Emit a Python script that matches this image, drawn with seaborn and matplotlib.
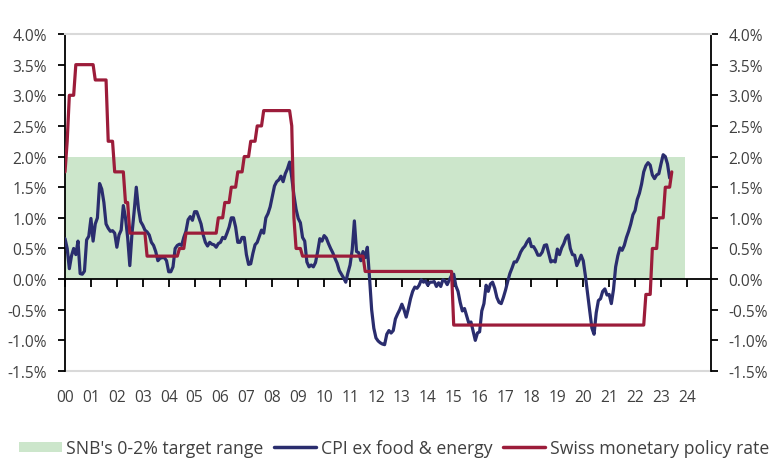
import matplotlib
matplotlib.use("Agg")
import matplotlib.pyplot as plt
import numpy as np
import pandas as pd
import seaborn as sns
from matplotlib.patches import Patch
from matplotlib.lines import Line2D

# ---------------- data ----------------
# CPI ex food & energy, % y/y, monthly from Jan 2000
cpi_start = "2000-01"
cpi_values = [
    0.66, 0.50, 0.17, 0.38, 0.50, 0.40, 0.62, 0.09, 0.08, 0.13, 0.64, 0.70,   # 2000
    0.99, 0.62, 0.90, 1.00, 1.56, 1.47, 1.25, 0.90, 0.83, 0.78, 0.79, 0.75,   # 2001
    0.52, 0.72, 0.80, 1.20, 1.00, 0.68, 0.22, 0.74, 1.10, 1.50, 1.15, 0.94,   # 2002
    0.88, 0.80, 0.77, 0.72, 0.60, 0.55, 0.45, 0.30, 0.34, 0.35, 0.35, 0.30,   # 2003
    0.12, 0.12, 0.20, 0.50, 0.55, 0.57, 0.55, 0.68, 0.78, 0.97, 1.02, 0.96,   # 2004
    1.10, 1.10, 1.00, 0.90, 0.72, 0.60, 0.54, 0.60, 0.57, 0.56, 0.52, 0.58,   # 2005
    0.60, 0.68, 0.66, 0.75, 0.85, 1.00, 1.00, 0.85, 0.60, 0.60, 0.68, 0.68,   # 2006
    0.40, 0.24, 0.25, 0.42, 0.56, 0.60, 0.70, 0.80, 0.75, 1.00, 1.07, 1.18,   # 2007
    1.35, 1.52, 1.59, 1.62, 1.68, 1.59, 1.72, 1.80, 1.91, 1.66, 1.37, 1.14,   # 2008
    0.99, 0.92, 0.68, 0.62, 0.28, 0.20, 0.23, 0.20, 0.27, 0.45, 0.66, 0.62,   # 2009
    0.71, 0.67, 0.58, 0.50, 0.43, 0.34, 0.26, 0.14, 0.08, 0.02, -0.05, 0.10,  # 2010
    0.23, 0.48, 0.95, 0.45, 0.43, 0.30, 0.45, 0.35, 0.52, 0.03, -0.50, -0.80, # 2011
    -0.96, -1.01, -1.04, -1.06, -1.07, -0.90, -0.84, -0.88, -0.84, -0.65, -0.57, -0.50,  # 2012
    -0.41, -0.50, -0.62, -0.48, -0.32, -0.20, -0.13, -0.15, -0.10, -0.01, -0.05, -0.03,  # 2013
    -0.10, -0.05, -0.05, -0.04, -0.12, -0.06, -0.12, -0.01, -0.03, -0.09, -0.01, 0.06,   # 2014
    0.08, -0.11, -0.20, -0.38, -0.52, -0.48, -0.60, -0.72, -0.70, -0.85, -1.00, -0.88,   # 2015
    -0.86, -0.52, -0.40, -0.10, -0.20, -0.08, -0.05, -0.15, -0.30, -0.38, -0.40, -0.30,  # 2016
    -0.18, -0.04, 0.09, 0.18, 0.28, 0.28, 0.35, 0.44, 0.50, 0.54, 0.61, 0.66,   # 2017
    0.53, 0.53, 0.47, 0.39, 0.39, 0.44, 0.55, 0.56, 0.42, 0.28, 0.30, 0.28,     # 2018
    0.49, 0.40, 0.51, 0.58, 0.68, 0.72, 0.50, 0.40, 0.39, 0.22, 0.30, 0.39,     # 2019
    0.30, 0.05, -0.24, -0.52, -0.80, -0.90, -0.55, -0.35, -0.32, -0.20, -0.16, -0.26,  # 2020
    -0.25, -0.40, -0.17, 0.20, 0.38, 0.51, 0.47, 0.55, 0.68, 0.78, 0.90, 1.05,  # 2021
    1.12, 1.30, 1.40, 1.55, 1.75, 1.85, 1.90, 1.86, 1.70, 1.64, 1.70, 1.72,     # 2022
    1.88, 2.03, 2.00, 1.88, 1.65,                                               # 2023
]

# Swiss monetary policy rate (step series): month of change and new level, %
rate_change_months = ["2000-01", "2000-02", "2000-03", "2000-06", "2001-03", "2001-09",
                      "2001-12", "2002-05", "2002-07", "2003-03", "2004-06", "2004-09",
                      "2005-12", "2006-03", "2006-06", "2006-09", "2006-12", "2007-03",
                      "2007-06", "2007-09", "2008-10", "2008-11", "2008-12", "2009-03",
                      "2011-08", "2015-01", "2022-06", "2022-09", "2022-12", "2023-03",
                      "2023-06"]
rate_levels = [1.75, 2.25, 3.0, 3.5, 3.25, 2.25,
               1.75, 1.25, 0.75, 0.375, 0.5, 0.75,
               1.0, 1.25, 1.5, 1.75, 2.0, 2.25,
               2.5, 2.75, 2.5, 1.0, 0.5, 0.375,
               0.125, -0.75, -0.25, 0.5, 1.0, 1.5,
               1.75]
rate_end = "2023-06"

# SNB target range band
target_low, target_high = 0.0, 2.0
target_start, target_end = "2000-01", "2023-12"

year_ticks = list(range(2000, 2025))
year_labels = ["00", "01", "02", "03", "04", "05", "06", "07", "08", "09", "10", "11",
               "12", "13", "14", "15", "16", "17", "18", "19", "20", "21", "22", "23", "24"]
y_ticks = [-1.5, -1.0, -0.5, 0.0, 0.5, 1.0, 1.5, 2.0, 2.5, 3.0, 3.5, 4.0]
y_labels = ["-1.5%", "-1.0%", "-0.5%", "0.0%", "0.5%", "1.0%", "1.5%", "2.0%",
            "2.5%", "3.0%", "3.5%", "4.0%"]

legend_labels = ["SNB's 0-2% target range", "CPI ex food & energy",
                 "Swiss monetary policy rate"]

# ---------------- build frames ----------------
def to_x(periods):
    return periods.year + (periods.month - 1) / 12.0

cpi_months = pd.period_range(cpi_start, periods=len(cpi_values), freq="M")
cpi_df = pd.DataFrame({"x": to_x(cpi_months), "value": cpi_values})

rate_months = pd.period_range(rate_change_months[0], rate_end, freq="M")
rate_series = (pd.Series(rate_levels, index=pd.PeriodIndex(rate_change_months, freq="M"))
               .reindex(rate_months).ffill())
rate_df = pd.DataFrame({"x": to_x(rate_months), "value": rate_series.values})

band_x = to_x(pd.PeriodIndex([target_start, target_end], freq="M"))

# ---------------- style ----------------
sns.set_theme(style="white")
plt.rcParams["font.family"] = ["Open Sans", "DejaVu Sans"]

green = "#cce6cb"
blue = "#2a2d6e"
red = "#9c1c3a"
text_col = "#404040"

fig = plt.figure(figsize=(7.76, 4.77), dpi=100)
ax = fig.add_axes([0.0838, 0.2201, 0.8320, 0.7065])

ax.fill_between(band_x, target_low, target_high, color=green, lw=0, zorder=1)
sns.lineplot(data=cpi_df, x="x", y="value", ax=ax, color=blue, lw=2.3, zorder=3)
sns.lineplot(data=rate_df, x="x", y="value", ax=ax, color=red, lw=2.3, zorder=4)

ax.set_xlim(2000, 2024 + 11 / 12)
ax.set_ylim(-1.5, 4.0)
ax.set_xlabel("")
ax.set_ylabel("")

ax.spines["top"].set_color("#d9d9d9")
ax.spines["top"].set_linewidth(1.5)
for s in ["left", "right"]:
    ax.spines[s].set_color("black")
    ax.spines[s].set_linewidth(1.3)
    ax.spines[s].set_visible(True)

# main x axis: black line at zero with downward tick marks, no labels
ax.spines["bottom"].set_position(("data", 0))
ax.spines["bottom"].set_color("black")
ax.spines["bottom"].set_linewidth(1.3)
ax.spines["bottom"].set_zorder(2)
ax.set_xticks(year_ticks)
ax.tick_params(axis="x", bottom=True, direction="out", length=6, width=1.3,
               color="black", labelbottom=False)

ax.set_yticks(y_ticks)
ax.set_yticklabels(y_labels)
ax.tick_params(axis="y", left=True, right=True, labelleft=True, labelright=True,
               direction="out", length=5, width=1.3, color="black",
               labelsize=11.2, labelcolor=text_col, pad=8)

# year labels along the bottom edge (grey frame line)
sec = ax.secondary_xaxis("bottom")
sec.set_xticks(year_ticks)
sec.set_xticklabels(year_labels)
sec.tick_params(axis="x", length=0, pad=13, labelsize=11.2, labelcolor=text_col)
sec.spines["bottom"].set_color("#d9d9d9")
sec.spines["bottom"].set_linewidth(1.5)

handles = [Patch(facecolor=green, edgecolor="none"),
           Line2D([], [], color=blue, lw=2.5),
           Line2D([], [], color=red, lw=2.5)]
fig.legend(handles, legend_labels, loc="center", bbox_to_anchor=(0.508, 0.059),
           ncol=3, frameon=False, fontsize=12.7, handlelength=2.4, handleheight=0.5,
           handletextpad=0.25, columnspacing=0.6, labelcolor=text_col)

fig.savefig("out.png", dpi=100)
